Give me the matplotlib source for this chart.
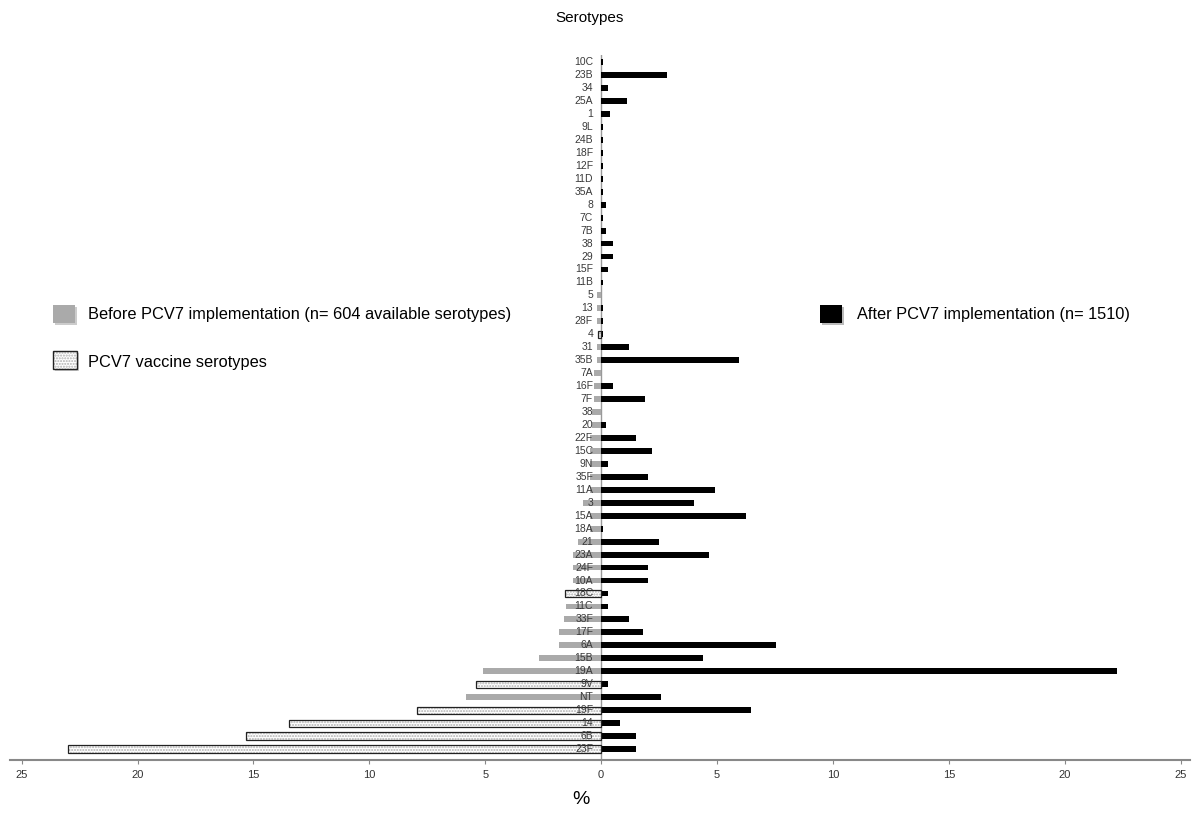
import matplotlib
matplotlib.use("Agg")
import matplotlib.pyplot as plt
from matplotlib.patches import Rectangle

plt.rcParams['font.family'] = ['Liberation Sans', 'DejaVu Sans']

# serotypes, top to bottom as in the figure
cats = ["10C", "23B", "34", "25A", "1", "9L", "24B", "18F", "12F", "11D", "35A", "8",
        "7C", "7B", "38", "29", "15F", "11B", "5", "13", "28F", "4", "31", "35B", "7A",
        "16F", "7F", "38", "20", "22F", "15C", "9N", "35F", "11A", "3", "15A", "18A",
        "21", "23A", "24F", "10A", "18C", "11C", "33F", "17F", "6A", "15B", "19A", "9V",
        "NT", "19F", "14", "6B", "23F"]

# % before PCV7 (left side)
before = [0, 0, 0, 0, 0, 0, 0, 0, 0, 0, 0, 0,
          0, 0, 0, 0, 0, 0, 0.2, 0.2, 0.2, 0.15, 0.2, 0.2, 0.3,
          0.3, 0.3, 0.4, 0.4, 0.5, 0.5, 0.5, 0.5, 0.5, 0.8, 0.5, 0.5,
          1.0, 1.2, 1.2, 1.2, 1.55, 1.5, 1.6, 1.8, 1.8, 2.7, 5.1, 5.4,
          5.85, 7.95, 13.45, 15.3, 23.0]

# % after PCV7 (right side)
after = [0.1, 2.85, 0.3, 1.1, 0.4, 0.1, 0.1, 0.1, 0.1, 0.1, 0.1, 0.2,
         0.07, 0.2, 0.5, 0.5, 0.3, 0.1, 0, 0.1, 0.1, 0.1, 1.2, 5.95, 0,
         0.5, 1.9, 0, 0.2, 1.5, 2.2, 0.3, 2.0, 4.9, 4.0, 6.25, 0.1,
         2.5, 4.65, 2.0, 2.0, 0.3, 0.3, 1.2, 1.8, 7.55, 4.4, 22.25, 0.3,
         2.6, 6.45, 0.8, 1.5, 1.5]

pcv7 = {"4", "6B", "9V", "14", "18C", "19F", "23F"}

ticks = [-25, -20, -15, -10, -5, 0, 5, 10, 15, 20, 25]

fig = plt.figure(figsize=(12, 8.16), dpi=100)
ax = fig.add_axes([10 / 1200, 56 / 816, 1180 / 1200, 705 / 816])

n = len(cats)
h = 0.45
for i, (c, b, a) in enumerate(zip(cats, before, after)):
    y = n - 1 - i
    if c in pcv7:
        ax.barh(y, -b, height=h + 0.1, color='white', edgecolor='#b0b0b0',
                hatch='......', linewidth=0, zorder=2)
        ax.barh(y, -b, height=h + 0.1, fill=False, edgecolor='#222222',
                linewidth=0.9, zorder=3)
    else:
        ax.barh(y, -b, height=h, color='#aaaaaa', linewidth=0, zorder=2)
    ax.barh(y, a, height=h, color='black', linewidth=0, zorder=2)
    ax.text(-0.35, y, c, ha='right', va='center', fontsize=7.5, color='#3a3a3a', zorder=4)

ax.axvline(0, color='#999999', lw=1, zorder=1)
ax.set_xlim(-25.5, 25.4)
ax.set_ylim(-0.85, n - 1 + 0.55)

for s in ['top', 'right', 'left']:
    ax.spines[s].set_visible(False)
ax.spines['bottom'].set_color('#888888')
ax.spines['bottom'].set_linewidth(1.5)
ax.set_yticks([])
ax.set_xticks(ticks)
ax.set_xticklabels([str(abs(t)) for t in ticks], fontsize=8, color='#333333')
ax.tick_params(axis='x', length=3, color='#888888', pad=4)

fig.text(590 / 1200, 1 - 18 / 816, "Serotypes", ha='center', va='center', fontsize=11)
fig.text(581 / 1200, 1 - 800 / 816, "%", ha='center', va='center', fontsize=14)

# legend boxes drawn in pixel positions of the figure
def box(x0, y0, w, hgt, **kw):
    fig.patches.append(Rectangle((x0 / 1200, 1 - (y0 + hgt) / 816), w / 1200, hgt / 816,
                                 transform=fig.transFigure, **kw))

box(55, 307, 22, 18, facecolor='#cccccc', edgecolor='none')
box(53, 305, 22, 18, facecolor='#aaaaaa', edgecolor='none')
fig.text(88 / 1200, 1 - 315 / 816, "Before PCV7 implementation (n= 604 available serotypes)",
         ha='left', va='center', fontsize=11.8)

box(55, 353, 24, 18, facecolor='#cccccc', edgecolor='none')
box(53, 351, 24, 18, facecolor='white', edgecolor='#b0b0b0', hatch='......', linewidth=0)
box(53, 351, 24, 18, fill=False, edgecolor='#222222', linewidth=1)
fig.text(88 / 1200, 1 - 362 / 816, "PCV7 vaccine serotypes", ha='left', va='center', fontsize=11.8)

box(822, 307, 22, 18, facecolor='#bbbbbb', edgecolor='none')
box(820, 305, 22, 18, facecolor='black', edgecolor='none')
fig.text(857 / 1200, 1 - 315 / 816, "After PCV7 implementation (n= 1510)",
         ha='left', va='center', fontsize=11.8)

fig.savefig("out.png", dpi=100)
